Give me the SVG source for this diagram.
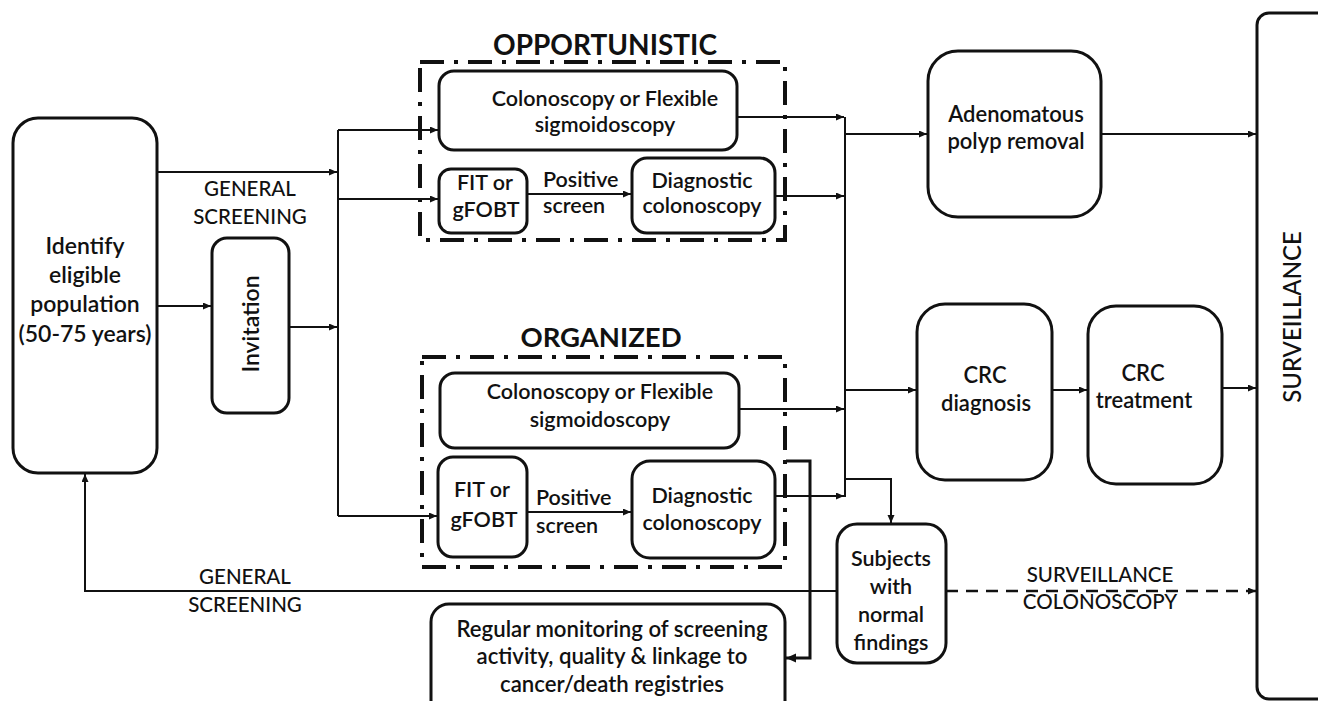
<svg xmlns="http://www.w3.org/2000/svg" width="1318" height="701" viewBox="0 0 1318 701">
<style>
.box{fill:#fff;stroke:#111;stroke-width:3}
.grp{fill:none;stroke:#111;stroke-width:4;stroke-dasharray:24 10 4 10}
.c{fill:none;stroke:#111;stroke-width:2}
.t{font-family:Lato,"Open Sans",sans-serif;font-size:21.5px;font-weight:600;fill:#111;text-anchor:middle}
.l{font-family:Lato,"Open Sans",sans-serif;font-size:20.5px;font-weight:500;fill:#111;text-anchor:middle}
.h{font-family:Lato,"Open Sans",sans-serif;font-size:28px;font-weight:700;fill:#111;text-anchor:middle}
</style>
<defs>
<marker id="a" markerUnits="userSpaceOnUse" markerWidth="9" markerHeight="8" refX="8" refY="3.5" orient="auto"><path d="M0,0 L8,3.5 L0,7 z" fill="#111"/></marker>
<marker id="b" markerUnits="userSpaceOnUse" markerWidth="11" markerHeight="10" refX="10" refY="4.5" orient="auto"><path d="M0,0 L10,4.5 L0,9 z" fill="#111"/></marker>
</defs>
<rect width="1318" height="701" fill="#fff"/>

<g id="connectors">
<path class="c" d="M157,172 H337" marker-end="url(#a)"/>
<path class="c" d="M338,130 V516"/>
<path class="c" d="M338,130 H438" marker-end="url(#a)"/>
<path class="c" d="M338,199 H438" marker-end="url(#a)"/>
<path class="c" d="M157,306 H211" marker-end="url(#a)"/>
<path class="c" d="M289,327 H337" marker-end="url(#a)"/>
<path class="c" d="M338,516 H437" marker-end="url(#a)"/>
<path class="c" d="M527,194 H631" marker-end="url(#a)"/>
<path class="c" d="M527,512 H631" marker-end="url(#a)"/>
<path class="c" d="M737,117 H844" marker-end="url(#a)"/>
<path class="c" d="M775,196 H844" marker-end="url(#a)"/>
<path class="c" d="M845,117 V497"/>
<path class="c" d="M845,134 H927" marker-end="url(#a)"/>
<path class="c" d="M1101,134 H1256" marker-end="url(#a)"/>
<path class="c" d="M845,390 H916" marker-end="url(#a)"/>
<path class="c" d="M1052,390 H1087" marker-end="url(#a)"/>
<path class="c" d="M1222,388 H1256" marker-end="url(#a)"/>
<path class="c" d="M739,409 H844" marker-end="url(#a)"/>
<path class="c" d="M775,496 H844" marker-end="url(#a)"/>
<path class="c" d="M845,479 H891 V523" marker-end="url(#a)"/>
<path class="c" style="stroke-width:3" d="M786,461 H810 V658 H786" marker-end="url(#b)"/>
<path class="c" d="M837,591 H85 V474" marker-end="url(#a)"/>
<path class="c" style="stroke-width:2.5;stroke-dasharray:12 8" d="M946,591 H1256" marker-end="url(#a)"/>
</g>

<g id="label-general-top"><text class="l" x="250" y="196">GENERAL</text><text class="l" x="250" y="224">SCREENING</text></g>
<g id="label-general-bottom"><text class="l" x="245" y="584">GENERAL</text><text class="l" x="245" y="612">SCREENING</text></g>
<g id="label-surv-col"><text class="l" x="1100" y="582">SURVEILLANCE</text><text class="l" x="1100" y="609">COLONOSCOPY</text></g>

<g id="identify"><rect class="box" x="13" y="118" width="144" height="355" rx="25"/>
<text class="t" style="font-size:23px" x="85" y="254">Identify</text>
<text class="t" style="font-size:23px" x="85" y="283">eligible</text>
<text class="t" style="font-size:23px" x="85" y="312">population</text>
<text class="t" style="font-size:23px" x="85" y="342">(50-75 years)</text></g>

<g id="invitation"><rect class="box" x="212" y="238" width="77" height="175" rx="15"/>
<text class="t" style="font-size:23px" transform="translate(259,324) rotate(-90)" x="0" y="0">Invitation</text></g>

<g id="opportunistic"><rect class="grp" x="420" y="62" width="365" height="178"/>
<text class="h" x="605" y="55">OPPORTUNISTIC</text></g>

<g id="opp-colonoscopy"><rect class="box" x="439" y="71" width="298" height="79" rx="15"/>
<text class="t" x="605" y="106">Colonoscopy or Flexible</text>
<text class="t" x="605" y="132">sigmoidoscopy</text></g>

<g id="opp-fit"><rect class="box" x="439" y="169" width="88" height="64" rx="12"/>
<text class="t" x="485" y="190">FIT or</text>
<text class="t" x="486" y="217">gFOBT</text></g>
<g id="opp-positive"><text class="t" style="text-anchor:start" x="543" y="187">Positive</text><text class="t" style="text-anchor:start" x="543" y="213">screen</text></g>

<g id="opp-diag"><rect class="box" x="632" y="158" width="143" height="75" rx="15"/>
<text class="t" x="702" y="188">Diagnostic</text>
<text class="t" x="702" y="213">colonoscopy</text></g>

<g id="organized"><rect class="grp" x="422" y="357" width="363" height="210"/>
<text class="h" style="font-size:27.5px" x="601" y="347">ORGANIZED</text></g>

<g id="org-colonoscopy"><rect class="box" x="440" y="373" width="299" height="75" rx="15"/>
<text class="t" x="600" y="399">Colonoscopy or Flexible</text>
<text class="t" x="600" y="427">sigmoidoscopy</text></g>

<g id="org-fit"><rect class="box" x="438" y="457" width="89" height="100" rx="15"/>
<text class="t" x="482" y="497">FIT or</text>
<text class="t" x="484" y="527">gFOBT</text></g>
<g id="org-positive"><text class="t" style="text-anchor:start" x="536" y="505">Positive</text><text class="t" style="text-anchor:start" x="536" y="533">screen</text></g>

<g id="org-diag"><rect class="box" x="632" y="461" width="143" height="97" rx="18"/>
<text class="t" x="702" y="503">Diagnostic</text>
<text class="t" x="702" y="530">colonoscopy</text></g>

<g id="adenomatous"><rect class="box" x="928" y="51" width="173" height="166" rx="30"/>
<text class="t" style="font-size:22px" x="1016" y="122">Adenomatous</text>
<text class="t" style="font-size:22px" x="1016" y="149">polyp removal</text></g>

<g id="crc-diagnosis"><rect class="box" x="917" y="304" width="135" height="176" rx="28"/>
<text class="t" style="font-size:22px" x="985" y="383">CRC</text>
<text class="t" style="font-size:22px" x="986" y="411">diagnosis</text></g>

<g id="crc-treatment"><rect class="box" x="1088" y="306" width="134" height="178" rx="28"/>
<text class="t" style="font-size:22px" x="1143" y="381">CRC</text>
<text class="t" style="font-size:22px" x="1144" y="408">treatment</text></g>

<g id="surveillance"><rect class="box" x="1257" y="13" width="90" height="686" rx="12"/>
<text class="t" style="font-size:24px;font-weight:500" transform="translate(1301,317) rotate(-90)" x="0" y="0">SURVEILLANCE</text></g>

<g id="subjects"><rect class="box" x="837" y="524" width="109" height="139" rx="20"/>
<text class="t" x="891" y="566">Subjects</text>
<text class="t" x="891" y="594">with</text>
<text class="t" x="891" y="622">normal</text>
<text class="t" x="891" y="650">findings</text></g>

<g id="monitoring"><rect class="box" x="431" y="604" width="354" height="115" rx="18"/>
<text class="t" style="font-size:22.2px" x="612" y="637">Regular monitoring of screening</text>
<text class="t" style="font-size:22.2px" x="612" y="664">activity, quality &amp; linkage to</text>
<text class="t" style="font-size:22.2px" x="612" y="692">cancer/death registries</text></g>
</svg>
